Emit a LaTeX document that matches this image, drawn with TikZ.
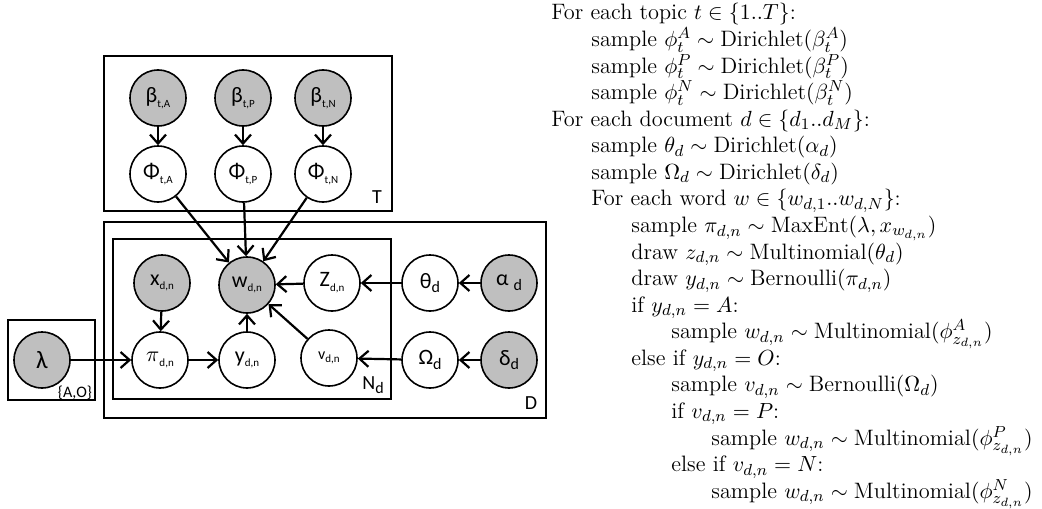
\documentclass[tikz,border=0pt]{standalone}
\usepackage{fontspec}
\usetikzlibrary{arrows.meta}
\newfontfamily\carl{Carlito}
\newcommand\lsub[1]{\raisebox{-0.45ex}{\fontsize{5.5}{6}\selectfont #1}}
\newcommand\msub[1]{\raisebox{-0.45ex}{\fontsize{8}{9}\selectfont #1}}
\begin{document}
\begin{tikzpicture}[x=0.5pt,y=-0.5pt,
  var/.style={circle,draw,line width=0.8pt,minimum size=28pt,inner sep=0pt,
    font=\carl\fontsize{11}{12}\selectfont,fill=white},
  obs/.style={var,fill=gray!50},
  plate/.style={draw,line width=0.9pt},
  lab/.style={font=\carl\fontsize{10}{12}\selectfont,inner sep=0pt},
  edge/.style={-{Straight Barb[length=4.5pt,width=8pt]},line width=1.1pt},
  txt/.style={anchor=base west,inner sep=0pt,font=\fontsize{11.15}{13}\selectfont}]
\useasboundingbox (0,0) rectangle (1042,508);
% plates
\draw[plate] (104,56) rectangle (392,211);
\draw[plate] (104,222) rectangle (546,418);
\draw[plate] (113,239) rectangle (391,399);
\draw[plate] (8,320) rectangle (95,400);
\node[lab] (lT) at (377,197) {T};
\node[lab] (lD) at (531,403) {D};
\node[lab] (lN) at (373,385) {N\msub{d}};
\node[lab,font=\carl\fontsize{8}{9}\selectfont] (lAO) at (75,393) {\{A,O\}};
% nodes
\node[obs] (bA) at (158,98) {β\lsub{t,A}};
\node[obs] (bP) at (243,98) {β\lsub{t,P}};
\node[obs] (bN) at (323,98) {β\lsub{t,N}};
\node[var] (fA) at (158,174) {Φ\lsub{t,A}};
\node[var] (fP) at (243,174) {Φ\lsub{t,P}};
\node[var] (fN) at (323,174) {Φ\lsub{t,N}};
\node[obs] (x) at (162,283) {x\lsub{d,n}};
\node[obs] (w) at (247,285) {w\lsub{d,n}};
\node[var] (z) at (332,283) {Z\lsub{d,n}};
\node[var] (pi) at (160,360) {$\pi$\lsub{d,n}};
\node[var] (y) at (247,360) {y\lsub{d,n}};
\node[var] (v) at (329,358) {\fontsize{8}{9}\selectfont v\lsub{d,n}};
\node[var] (th) at (430,283) {θ\msub{d}};
\node[var] (om) at (430,360) {Ω\msub{d}};
\node[obs] (al) at (509,283) {α \msub{d}};
\node[obs] (de) at (509,360) {δ\msub{d}};
\node[obs,font=\carl\fontsize{12.5}{14}\selectfont] (la) at (42,360) {λ};
% edges
\draw[edge] (bA) -- (fA);
\draw[edge] (bP) -- (fP);
\draw[edge] (bN) -- (fN);
\draw[edge] (fA) -- (w);
\draw[edge] (fP) -- (w);
\draw[edge] (fN) -- (w);
\draw[edge] (x) -- (pi);
\draw[edge] (la) -- (pi);
\draw[edge] (pi) -- (y);
\draw[edge] (y) -- (w);
\draw[edge] (v) -- (w);
\draw[edge] (z) -- (w);
\draw[edge] (th) -- (z);
\draw[edge] (al) -- (th);
\draw[edge] (om) -- (v);
\draw[edge] (de) -- (om);
% generative story
\node[txt] (t1) at (551,20.0) {For each topic $t\in\{1..T\}$:};
\node[txt] (t2) at (591,46.6) {sample $\phi_t^A\sim\mathrm{Dirichlet}(\beta_t^A)$};
\node[txt] (t3) at (591,73.1) {sample $\phi_t^P\sim\mathrm{Dirichlet}(\beta_t^P)$};
\node[txt] (t4) at (591,99.7) {sample $\phi_t^N\sim\mathrm{Dirichlet}(\beta_t^N)$};
\node[txt] (t5) at (551,126.2) {For each document $d\in\{d_1..d_M\}$:};
\node[txt] (t6) at (591,152.8) {sample $\theta_d\sim\mathrm{Dirichlet}(\alpha_d)$};
\node[txt] (t7) at (591,179.4) {sample $\Omega_d\sim\mathrm{Dirichlet}(\delta_d)$};
\node[txt] (t8) at (591,205.9) {For each word $w\in\{w_{d,1}..w_{d,N}\}$:};
\node[txt] (t9) at (631,232.5) {sample $\pi_{d,n}\sim\mathrm{MaxEnt}(\lambda,x_{w_{d,n}})$};
\node[txt] (t10) at (631,259.0) {draw $z_{d,n}\sim\mathrm{Multinomial}(\theta_d)$};
\node[txt] (t11) at (631,285.6) {draw $y_{d,n}\sim\mathrm{Bernoulli}(\pi_{d,n})$};
\node[txt] (t12) at (631,312.2) {if $y_{d,n}=A$:};
\node[txt] (t13) at (671,338.7) {sample $w_{d,n}\sim\mathrm{Multinomial}(\phi^A_{z_{d,n}})$};
\node[txt] (t14) at (631,365.3) {else if $y_{d,n}=O$:};
\node[txt] (t15) at (671,391.8) {sample $v_{d,n}\sim\mathrm{Bernoulli}(\Omega_d)$};
\node[txt] (t16) at (671,418.4) {if $v_{d,n}=P$:};
\node[txt] (t17) at (711,445.0) {sample $w_{d,n}\sim\mathrm{Multinomial}(\phi^P_{z_{d,n}})$};
\node[txt] (t18) at (671,471.5) {else if $v_{d,n}=N$:};
\node[txt] (t19) at (711,498.1) {sample $w_{d,n}\sim\mathrm{Multinomial}(\phi^N_{z_{d,n}})$};
\end{tikzpicture}
\end{document}
